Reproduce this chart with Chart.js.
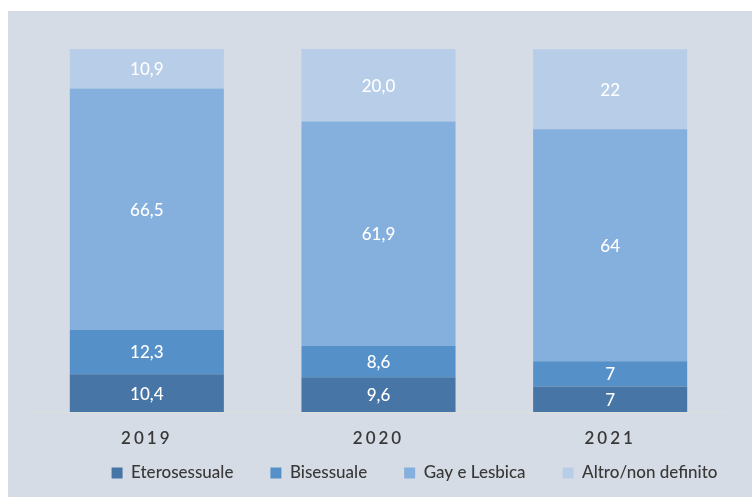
<!DOCTYPE html>
<html>
<head>
<meta charset="utf-8">
<script src="https://cdn.jsdelivr.net/npm/chart.js@4/dist/chart.umd.min.js"></script>
<style>
  html, body { margin: 0; padding: 0; background: #ffffff; }
  #frame { position: absolute; left: 8px; top: 11px; width: 744px; height: 486px; background: #d6dce5; }
  canvas { display: block; }
</style>
</head>
<body>
<div id="frame"><canvas id="c" width="744" height="486"></canvas></div>
<script>
// Anni e quote percentuali per orientamento sessuale
const years = ['2019', '2020', '2021'];
const eterosessuale = [10.4, 9.6, 7];
const bisessuale = [12.3, 8.6, 7];
const gayLesbica = [66.5, 61.9, 64];
const altro = [10.9, 20.0, 22];
// cifre decimali mostrate nelle etichette di ciascun anno
const labelDecimals = [1, 1, 0];

const seriesNames = ['Eterosessuale', 'Bisessuale', 'Gay e Lesbica', 'Altro/non definito'];
const seriesColors = ['#4675a6', '#5591c8', '#85afdc', '#b7cde8'];

const FONT = 'Lato, "Open Sans", sans-serif';
Chart.defaults.font.family = FONT;

// Category axis: letter-spaced tick labels, allowed to extend below the axis box
class SpacedCategoryScale extends Chart.CategoryScale {
  _computeLabelArea() {
    return { top: this.top, left: 0, bottom: this.chart.height, right: this.chart.width };
  }
  drawLabels(area) {
    const ctx = this.ctx;
    ctx.save();
    ctx.letterSpacing = '3px';
    super.drawLabels(area);
    ctx.restore();
  }
}
SpacedCategoryScale.id = 'spacedCategory';
SpacedCategoryScale.defaults = Chart.CategoryScale.defaults;
Chart.register(SpacedCategoryScale);

// Value labels centred inside each stacked segment
const segmentLabels = {
  id: 'segmentLabels',
  afterDatasetsDraw(chart) {
    const ctx = chart.ctx;
    ctx.save();
    ctx.font = '500 17px ' + FONT;
    ctx.fillStyle = '#ffffff';
    ctx.textAlign = 'center';
    ctx.textBaseline = 'middle';
    chart.data.datasets.forEach((ds, di) => {
      const meta = chart.getDatasetMeta(di);
      meta.data.forEach((bar, i) => {
        const txt = Number(ds.data[i]).toFixed(labelDecimals[i]).replace('.', ',');
        ctx.fillText(txt, bar.x, (bar.y + bar.base) / 2 + 1);
      });
    });
    ctx.restore();
  }
};

// Legend row sits a little right of the plot centre
const legendShift = {
  id: 'legendShift',
  afterLayout(chart) {
    const lg = chart.legend;
    if (lg) { lg.left += 36; lg.right += 36; }
  }
};

const seriesData = [eterosessuale, bisessuale, gayLesbica, altro];

new Chart(document.getElementById('c'), {
  type: 'bar',
  data: {
    labels: years,
    datasets: seriesData.map((d, i) => ({
      label: seriesNames[i],
      data: d,
      backgroundColor: seriesColors[i],
      borderWidth: 0,
      barPercentage: 0.665,
      categoryPercentage: 1
    }))
  },
  options: {
    responsive: false,
    animation: false,
    layout: { padding: { top: 38, left: 23, right: 26, bottom: 5.5 } },
    plugins: {
      tooltip: { enabled: false },
      legend: {
        position: 'bottom',
        labels: {
          boxWidth: 11,
          boxHeight: 11,
          padding: 37,
          color: '#383838',
          font: { size: 17, weight: '500' }
        }
      }
    },
    scales: {
      x: {
        type: 'spacedCategory',
        stacked: true,
        grid: { display: false, drawTicks: false },
        border: { display: true, color: '#dedede', width: 1 },
        ticks: { color: '#383838', font: { size: 17, weight: '600' }, padding: 16 },
        afterFit(scale) { scale.height = 15.5; }
      },
      y: {
        stacked: true,
        display: false,
        min: 0,
        max: 100.1
      }
    }
  },
  plugins: [segmentLabels, legendShift]
});
</script>
</body>
</html>
